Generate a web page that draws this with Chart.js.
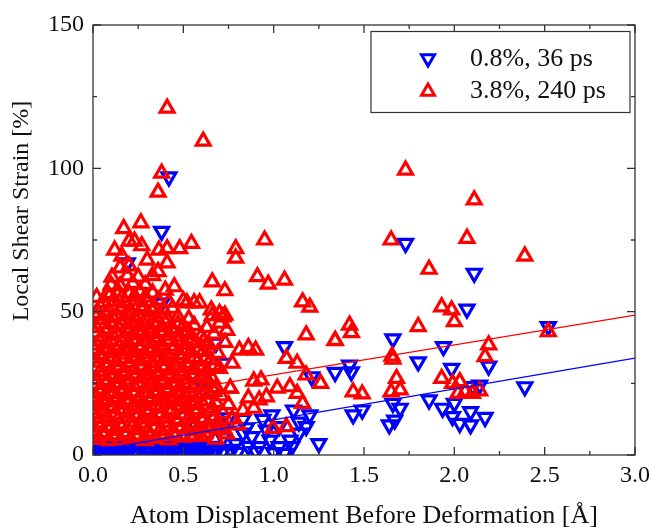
<!DOCTYPE html>
<html>
<head>
<meta charset="utf-8">
<script src="https://cdn.jsdelivr.net/npm/chart.js"></script>
<style>
  html, body { margin: 0; padding: 0; background: #fff; }
  canvas { display: block; }
</style>
</head>
<body>
<canvas id="strainChart" width="652" height="529"></canvas>
<script>
// series labels
var seriesLabels = ["0.8%, 36 ps", "3.8%, 240 ps"];
var xTitle = "Atom Displacement Before Deformation [Å]";
var yTitle = "Local Shear Strain [%]";

// 0.8%, 36 ps  (down triangles) [displacement, strain]
var bluePts = [
    [0.0,1.0],[0.04,0.8],[0.08,1.2],[0.12,0.9],[0.16,1.1],[0.2,0.7],[0.24,1.3],[0.28,0.9],[0.32,1.0],[0.36,0.8],
    [0.4,1.2],[0.44,0.9],[0.48,1.1],[0.52,0.6],[0.56,1.3],[0.6,0.8],[0.64,1.0],[0.68,0.7],[0.72,1.2],
    [0.03,1.8],[0.07,2.0],[0.11,1.7],[0.15,2.1],[0.19,1.9],[0.23,1.6],[0.27,2.2],[0.31,1.8],[0.35,2.0],[0.39,1.7],
    [0.43,2.1],[0.47,1.9],[0.51,1.6],[0.55,2.0],[0.59,1.8],[0.63,2.2],[0.67,1.7],
    [0.02,2.6],[0.06,3.2],[0.1,2.4],[0.14,3.0],[0.18,2.7],[0.22,3.1],[0.26,2.9],[0.3,2.6],[0.34,2.5],[0.38,2.9],
    [0.42,3.1],[0.46,2.7],[0.5,2.6],[0.54,3.0],[0.58,2.8],[0.62,2.5],[0.66,3.0],[0.0,3.8],[0.04,4.0],
    [0.76,2.0],[0.79,4.0],[0.83,7.6],[0.83,12.4],[0.86,3.0],[0.88,6.4],[0.9,1.2],[0.92,2.9],[0.94,12.4],[0.96,8.7],
    [0.98,5.2],[0.99,14.0],[1.0,0.8],[1.03,2.9],[1.03,9.9],[1.06,0.6],[1.09,5.2],[1.1,2.9],[1.11,15.7],[1.14,7.6],
    [1.14,11.5],[1.18,9.9],[1.2,14.0],[1.25,4.0],[0.8,0.9],[0.85,9.5],[0.72,6.0],[0.57,9.9],[0.7,10.5],[0.75,13.0],
    [1.06,37.8],[1.21,27.3],[0.72,32.0],[0.68,39.0],[1.34,28.8],[1.42,31.4],[1.43,29.0],[1.44,14.0],[1.49,15.7],
    [1.73,73.8],[2.11,63.4],[2.07,50.9],[2.52,44.8],[1.66,40.5],[1.94,37.8],[2.19,31.0],[1.80,32.5],[1.985,30.2],
    [2.39,23.8],[2.14,24.4],[2.10,23.9],[1.86,19.2],[1.66,18.0],[1.70,16.3],[1.935,16.3],[2.0,18.0],[1.99,13.4],
    [2.03,11.0],[2.09,10.5],[2.09,15.1],[2.17,13.1],[1.64,10.5],[1.67,12.2],
    [0.38,78.0],[0.42,97.0],[0.19,67.0],[0.38,53.0],[0.22,45.0],[0.6,25.0]
];

// 3.8%, 240 ps  (up triangles) [displacement, strain]
var redPts = [
    [0.03,5.4],[0.09,5.0],[0.15,5.1],[0.21,5.6],[0.29,5.0],[0.35,5.8],[0.42,5.3],[0.5,6.2],[0.54,6.4],[0.62,7.6],[0.68,5.5],[0.74,7.4],
    [0.0,6.9],[0.06,6.6],[0.12,7.0],[0.18,6.7],[0.24,6.9],[0.32,6.8],[0.39,7.0],[0.46,6.7],[0.56,6.9],[0.6,6.5],
    [0.01,8.3],[0.06,7.8],[0.12,8.6],[0.18,7.9],[0.24,8.8],[0.3,8.1],[0.37,8.5],[0.44,7.7],[0.52,9.1],[0.58,8.4],[0.65,9.4],[0.71,8.9],
    [0.04,9.7],[0.1,9.9],[0.16,9.6],[0.22,10.1],[0.28,9.8],[0.34,9.5],[0.41,10.0],[0.49,9.7],[0.55,9.9],[0.63,10.2],[0.7,9.6],
    [0.03,11.2],[0.09,11.8],[0.15,10.9],[0.21,11.5],[0.27,11.1],[0.34,12.0],[0.4,11.3],[0.47,11.7],[0.55,11.0],[0.61,12.2],[0.69,11.4],[0.77,12.6],
    [0.02,12.8],[0.08,13.1],[0.14,12.7],[0.2,13.0],[0.27,12.6],[0.33,13.2],[0.4,12.9],[0.46,12.5],[0.53,13.0],[0.6,12.8],[0.67,13.3],
    [0.0,14.3],[0.06,14.8],[0.12,14.1],[0.19,14.6],[0.25,14.0],[0.31,14.9],[0.38,14.4],[0.43,15.1],[0.5,14.2],[0.57,14.7],[0.65,15.3],[0.72,14.5],
    [0.05,15.9],[0.11,16.2],[0.17,15.8],[0.24,16.1],[0.3,15.7],[0.37,16.3],[0.44,15.9],[0.51,16.2],[0.58,15.8],[0.66,16.4],
    [0.03,17.4],[0.09,17.0],[0.16,17.7],[0.22,17.2],[0.28,17.9],[0.35,17.3],[0.41,17.8],[0.48,17.1],[0.54,18.0],[0.61,17.5],[0.68,18.3],[0.75,17.6],
    [0.0,18.7],[0.06,19.0],[0.12,18.6],[0.19,18.9],[0.25,18.5],[0.31,19.1],[0.38,18.8],[0.44,18.6],[0.5,19.2],[0.57,18.7],[0.63,19.0],
    [0.01,20.2],[0.07,20.7],[0.13,20.1],[0.19,20.9],[0.26,20.4],[0.32,20.0],[0.38,20.8],[0.45,20.3],[0.51,21.0],[0.58,20.5],[0.64,21.2],[0.71,20.6],
    [0.04,21.6],[0.1,21.9],[0.16,21.5],[0.22,22.0],[0.29,21.7],[0.35,21.4],[0.41,22.1],[0.48,21.6],[0.54,21.9],[0.61,21.5],[0.67,22.2],
    [0.04,23.1],[0.1,23.6],[0.16,23.0],[0.23,23.8],[0.29,23.3],[0.35,23.9],[0.42,23.2],[0.48,23.7],[0.55,23.4],[0.62,24.1],[0.68,23.5],[0.76,23.3],
    [0.01,24.6],[0.07,24.9],[0.13,24.5],[0.19,25.0],[0.25,24.7],[0.32,24.4],[0.38,25.1],[0.45,24.6],[0.51,24.9],[0.57,24.5],[0.64,25.2],
    [0.02,26.3],[0.08,26.0],[0.14,26.7],[0.2,26.2],[0.27,26.9],[0.33,26.4],[0.39,26.1],[0.46,26.8],[0.52,26.5],[0.59,27.0],[0.66,26.6],
    [0.05,27.7],[0.11,28.0],[0.17,27.6],[0.24,28.1],[0.3,27.8],[0.36,27.5],[0.42,28.2],[0.49,27.7],[0.55,28.0],[0.62,27.6],
    [0.04,29.2],[0.1,29.7],[0.17,29.1],[0.23,29.8],[0.3,29.4],[0.36,29.0],[0.43,29.6],[0.49,29.3],[0.56,29.9],[0.63,29.5],[0.7,30.2],
    [0.02,30.6],[0.08,30.9],[0.14,30.5],[0.2,31.0],[0.27,30.7],[0.33,30.4],[0.4,31.1],[0.46,30.6],[0.53,30.9],[0.6,30.5],[0.67,31.2],
    [0.01,32.4],[0.07,32.0],[0.13,32.6],[0.2,32.2],[0.26,32.8],[0.33,32.3],[0.39,32.9],[0.45,32.5],[0.52,32.1],[0.58,32.7],[0.65,33.2],
    [0.05,33.7],[0.11,34.0],[0.17,33.6],[0.23,34.1],[0.3,33.8],[0.36,33.5],[0.42,34.2],[0.49,33.7],[0.56,34.0],[0.62,33.6],
    [0.04,35.1],[0.1,35.6],[0.16,35.2],[0.22,35.8],[0.29,35.3],[0.35,35.9],[0.41,35.4],[0.48,35.0],[0.54,35.7],[0.61,36.1],[0.69,35.5],
    [0.01,36.6],[0.07,36.9],[0.13,36.5],[0.19,37.0],[0.26,36.7],[0.32,36.4],[0.38,37.1],[0.44,36.6],[0.51,36.9],[0.58,36.5],
    [0.02,38.3],[0.08,38.8],[0.14,38.2],[0.2,38.7],[0.26,38.1],[0.32,38.9],[0.38,38.4],[0.45,38.0],[0.51,38.6],[0.57,39.1],[0.64,38.5],[0.73,39.3],
    [0.04,39.7],[0.1,40.0],[0.16,39.6],[0.23,40.1],[0.29,39.8],[0.35,39.5],[0.41,40.2],[0.47,39.7],[0.54,40.0],[0.61,39.6],
    [0.05,41.2],[0.11,41.7],[0.17,41.1],[0.23,41.9],[0.29,41.4],[0.35,41.0],[0.42,41.6],[0.48,41.3],[0.54,42.0],[0.6,41.5],[0.67,42.2],
    [0.01,42.6],[0.07,42.9],[0.13,42.5],[0.19,43.0],[0.26,42.7],[0.32,42.4],[0.38,43.1],[0.45,42.6],[0.52,42.9],
    [0.02,44.4],[0.08,44.0],[0.14,44.6],[0.2,44.2],[0.26,44.9],[0.32,44.3],[0.38,44.7],[0.44,44.1],[0.5,44.8],[0.56,45.2],[0.63,44.5],
    [0.04,45.7],[0.1,46.0],[0.16,45.6],[0.22,46.1],[0.28,45.8],[0.34,45.5],[0.4,46.2],[0.47,45.7],
    [0.05,47.3],[0.11,47.8],[0.17,47.1],[0.23,47.6],[0.29,47.2],[0.35,47.9],[0.41,47.4],[0.47,48.1],[0.53,47.5],[0.66,48.6],[0.72,48.2],
    [0.01,48.6],[0.07,48.9],[0.13,48.5],[0.19,49.0],[0.25,48.7],[0.31,48.4],[0.37,49.1],
    [0.03,49.4],[0.09,50.3],[0.15,50.8],[0.21,50.2],[0.27,50.7],[0.33,50.1],[0.39,50.6],[0.44,51.2],[0.52,53.1],[0.56,53.1],[0.59,53.1],
    [0.04,51.7],[0.1,52.0],[0.16,51.6],[0.22,52.1],[0.28,51.8],[0.34,51.5],
    [0.655,50.6],[0.70,49.4],[0.73,48.8],
    [0.06,53.2],[0.12,53.7],[0.18,53.1],[0.24,53.9],[0.3,53.4],[0.36,54.0],[0.42,53.3],[0.5,53.8],
    [0.02,55.0],[0.09,55.3],[0.16,54.9],[0.23,55.4],[0.29,55.1],
    [0.08,56.4],[0.14,56.9],[0.2,56.2],[0.26,56.8],[0.33,56.5],[0.45,58.7],[0.40,57.5],[0.66,60.4],[0.73,57.3],
    [0.1,59.3],[0.15,59.0],[0.22,59.8],[0.29,59.4],[0.36,64.0],
    [0.105,62.0],[0.19,62.5],[0.25,62.1],[0.33,62.6],
    [0.15,65.3],[0.2,66.0],[0.3,68.0],[0.41,67.0],[0.16,69.4],[0.12,71.5],[0.2,74.6],[0.23,74.6],[0.27,73.0],
    [0.365,71.5],[0.41,72.0],[0.48,72.0],[0.545,73.8],[0.17,79.0],[0.265,81.0],
    [0.41,121.0],[0.61,109.5],[0.38,98.3],[0.36,91.7],[0.79,72.0],[0.79,68.7],[0.95,75.0],[0.91,62.2],[0.97,59.6],
    [1.06,61.0],[1.16,53.4],[1.20,51.6],
    [0.77,32.0],[0.81,36.6],[0.86,37.5],[0.90,36.6],[1.07,33.7],[1.13,32.0],[1.18,27.9],[1.26,25.0],[1.18,41.9],
    [1.34,40.0],[1.02,23.3],[1.09,23.8],[1.13,21.5],[1.16,18.0],[0.93,26.2],[0.89,25.8],[0.92,19.2],[0.89,16.3],
    [0.96,20.3],[0.996,9.3],[1.07,9.9],[0.76,23.3],[0.83,15.6],[0.86,19.9],[0.8,10.5],[0.74,43.5],[0.7,46.0],
    [1.73,99.4],[2.11,89.0],[1.65,75.0],[2.07,75.6],[2.39,69.4],[1.86,64.8],[1.93,51.7],[1.985,50.6],[2.0,46.5],
    [1.80,44.8],[1.42,45.3],[1.43,42.7],[1.34,39.9],[2.19,38.4],[2.17,34.3],[2.52,43.0],[1.66,33.4],[1.655,34.5],
    [1.68,26.7],[1.93,26.7],[1.99,25.0],[2.03,25.6],[1.44,22.0],[1.49,21.3],[1.65,22.0],[1.70,22.7],[2.02,21.5],
    [2.10,21.5],[2.14,22.4],[2.06,22.0]
];

// linear fits
var fitX = [0, 3];
var blueFit = [1.5, 33.8];
var redFit = [17.6, 48.8];

// axis ticks
var xTicks = [0, 0.5, 1.0, 1.5, 2.0, 2.5, 3.0];
var yTicks = [0, 50, 100, 150];

var BLUE = "#0000ff";
var RED = "#ff0000";
var FONT = "Liberation Serif";

function toXY(pts) {
    return pts.map(function (p) { return {x: p[0], y: p[1]}; });
}

function fitLine(ys) {
    return fitX.map(function (x, i) { return {x: x, y: ys[i]}; });
}

function triangle(ctx, cx, cy, r, down) {
    var s = down ? -1 : 1;
    ctx.beginPath();
    ctx.moveTo(cx, cy - s * r);
    ctx.lineTo(cx + 0.866 * r, cy + s * r / 2);
    ctx.lineTo(cx - 0.866 * r, cy + s * r / 2);
    ctx.closePath();
    ctx.stroke();
}

// frame with inward ticks, y title and boxed legend
var framePlugin = {
    id: "frame",
    afterDatasetsDraw: function (chart) {
        var ctx = chart.ctx, a = chart.chartArea;
        var xs = chart.scales.x, ys = chart.scales.y;
        ctx.save();
        ctx.strokeStyle = "#333";
        ctx.lineWidth = 1.3;
        ctx.strokeRect(a.left, a.top, a.right - a.left, a.bottom - a.top);
        ctx.beginPath();
        var i, px, len;
        for (i = 0; i <= 12; i++) {
            px = xs.getPixelForValue(xs.min + i * (xs.max - xs.min) / 12);
            len = i % 2 === 0 ? 8 : 4;
            ctx.moveTo(px, a.bottom); ctx.lineTo(px, a.bottom - len);
            ctx.moveTo(px, a.top); ctx.lineTo(px, a.top + len);
        }
        for (i = 0; i <= 6; i++) {
            px = ys.getPixelForValue(ys.min + i * (ys.max - ys.min) / 6);
            len = i % 2 === 0 ? 8 : 4;
            ctx.moveTo(a.left, px); ctx.lineTo(a.left + len, px);
            ctx.moveTo(a.right, px); ctx.lineTo(a.right - len, px);
        }
        ctx.stroke();
        ctx.restore();
    },
    afterDraw: function (chart) {
        var ctx = chart.ctx, a = chart.chartArea;
        ctx.save();
        // y axis title
        ctx.translate(22, 211);
        ctx.rotate(-Math.PI / 2);
        ctx.fillStyle = "#111";
        ctx.font = "24px '" + FONT + "'";
        ctx.textAlign = "center";
        ctx.textBaseline = "middle";
        ctx.fillText(yTitle, 0, 0);
        ctx.restore();

        var bx = a.right - 264, by = a.top + 6.5, bw = 259, bh = 81;
        ctx.save();
        ctx.fillStyle = "#fff";
        ctx.fillRect(bx, by, bw, bh);
        ctx.strokeStyle = "#333";
        ctx.lineWidth = 1.2;
        ctx.strokeRect(bx, by, bw, bh);
        ctx.lineWidth = 3;
        ctx.strokeStyle = BLUE;
        triangle(ctx, bx + 57, by + 27, 7.5, true);
        ctx.strokeStyle = RED;
        triangle(ctx, bx + 57, by + 60, 7.5, false);
        ctx.fillStyle = "#111";
        ctx.font = "26px '" + FONT + "'";
        ctx.textBaseline = "middle";
        ctx.fillText(seriesLabels[0], bx + 99, by + 28);
        ctx.fillText(seriesLabels[1], bx + 99, by + 60);
        ctx.restore();
    }
};

var strainCtx = document.getElementById("strainChart");

var strainChart = new Chart(strainCtx, {
    type: "scatter",
    data: {
        datasets: [
            {
                label: "blue fit",
                data: fitLine(blueFit),
                showLine: true,
                borderColor: BLUE,
                borderWidth: 1.2,
                pointRadius: 0,
                order: 0
            },
            {
                label: "red fit",
                data: fitLine(redFit),
                showLine: true,
                borderColor: RED,
                borderWidth: 1.2,
                pointRadius: 0,
                order: 1
            },
            {
                label: seriesLabels[1],
                data: toXY(redPts),
                pointStyle: "triangle",
                pointRadius: 8,
                pointBorderWidth: 3.2,
                borderColor: RED,
                backgroundColor: "rgba(0,0,0,0)",
                clip: 0,
                order: 2
            },
            {
                label: seriesLabels[0],
                data: toXY(bluePts),
                pointStyle: "triangle",
                rotation: 180,
                pointRadius: 8,
                pointBorderWidth: 3.2,
                borderColor: BLUE,
                backgroundColor: "rgba(0,0,0,0)",
                clip: 0,
                order: 3
            }
        ]
    },
    options: {
        responsive: false,
        animation: false,
        events: [],
        layout: {padding: {top: 25, right: 17, left: 0, bottom: 0}},
        plugins: {
            legend: {display: false},
            tooltip: {enabled: false}
        },
        scales: {
            x: {
                type: "linear",
                min: 0,
                max: 3,
                afterBuildTicks: function (s) { s.ticks = xTicks.map(function (v) { return {value: v}; }); },
                afterFit: function (s) { s.height = 74; s.paddingLeft = 0; s.paddingRight = 0; },
                grid: {display: false, drawTicks: false},
                border: {display: false},
                ticks: {
                    padding: 6,
                    color: "#111",
                    font: {family: FONT, size: 24},
                    maxRotation: 0,
                    callback: function (v) { return v.toFixed(1); }
                },
                title: {
                    display: true,
                    text: xTitle,
                    color: "#111",
                    font: {family: FONT, size: 26, lineHeight: 1},
                    padding: {top: 0, bottom: 0}
                }
            },
            y: {
                type: "linear",
                min: 0,
                max: 150,
                afterBuildTicks: function (s) { s.ticks = yTicks.map(function (v) { return {value: v}; }); },
                afterFit: function (s) { s.width = 93; s.paddingTop = 0; s.paddingBottom = 0; },
                grid: {display: false, drawTicks: false},
                border: {display: false},
                ticks: {
                    padding: 9,
                    color: "#111",
                    font: {family: FONT, size: 24}
                }
            }
        }
    },
    plugins: [framePlugin]
});
</script>
</body>
</html>
